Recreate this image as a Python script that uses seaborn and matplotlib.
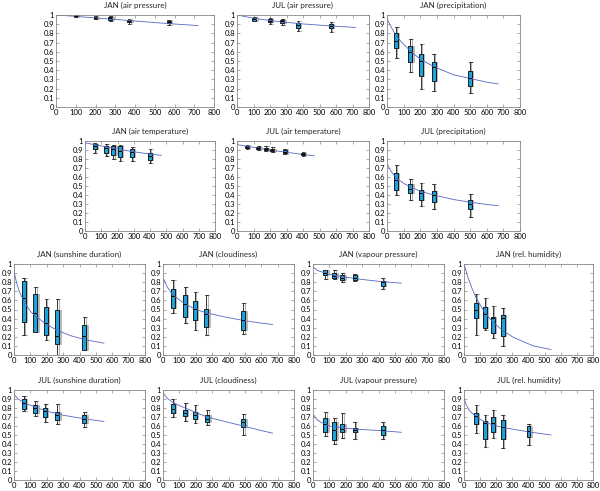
import matplotlib
matplotlib.use("Agg")
import matplotlib.pyplot as plt
import seaborn as sns

# box rows: position, low whisker, q1, median, q3, high whisker
# fit rows: x, y
jan_air_pressure_boxes = [
    (100, 0.980, 0.985, 0.990, 0.995, 1.000),
    (200, 0.955, 0.960, 0.970, 0.980, 0.985),
    (275, 0.940, 0.950, 0.965, 0.975, 0.985),
    (370, 0.900, 0.920, 0.935, 0.945, 0.960),
    (570, 0.890, 0.910, 0.920, 0.935, 0.950),
]
jan_air_pressure_fit = [(0, 1.0), (100, 0.985), (200, 0.968), (300, 0.952), (400, 0.935),
                        (500, 0.918), (600, 0.902), (720, 0.885)]

jul_air_pressure_boxes = [
    (105, 0.930, 0.940, 0.955, 0.970, 0.980),
    (200, 0.900, 0.920, 0.940, 0.960, 0.970),
    (275, 0.890, 0.910, 0.930, 0.950, 0.960),
    (370, 0.830, 0.860, 0.890, 0.910, 0.940),
    (570, 0.810, 0.860, 0.880, 0.900, 0.920),
]
jul_air_pressure_fit = [(0, 1.0), (100, 0.965), (200, 0.940), (300, 0.920), (400, 0.903),
                        (500, 0.890), (600, 0.877), (720, 0.865)]

jan_precip_boxes = [
    (55, 0.53, 0.64, 0.72, 0.80, 0.87),
    (140, 0.38, 0.49, 0.60, 0.66, 0.74),
    (205, 0.20, 0.34, 0.50, 0.58, 0.69),
    (280, 0.17, 0.28, 0.44, 0.49, 0.58),
    (500, 0.15, 0.23, 0.31, 0.39, 0.49),
]
jan_precip_fit = [(0, 0.96), (25, 0.87), (50, 0.79), (80, 0.72), (140, 0.61), (200, 0.52),
                  (280, 0.44), (400, 0.35), (500, 0.31), (600, 0.27), (670, 0.25)]

jan_air_temp_boxes = [
    (60, 0.87, 0.91, 0.95, 0.97, 0.98),
    (130, 0.83, 0.87, 0.92, 0.95, 0.97),
    (175, 0.80, 0.84, 0.91, 0.95, 0.96),
    (215, 0.78, 0.82, 0.89, 0.94, 0.96),
    (290, 0.78, 0.82, 0.88, 0.91, 0.93),
    (400, 0.76, 0.79, 0.83, 0.87, 0.91),
]
jan_air_temp_fit = [(0, 0.98), (100, 0.945), (200, 0.91), (300, 0.88), (400, 0.855), (470, 0.84)]

jul_air_temp_boxes = [
    (60, 0.91, 0.92, 0.935, 0.95, 0.96),
    (130, 0.90, 0.91, 0.92, 0.935, 0.95),
    (175, 0.89, 0.90, 0.91, 0.925, 0.94),
    (215, 0.88, 0.89, 0.90, 0.915, 0.93),
    (290, 0.86, 0.87, 0.88, 0.895, 0.91),
    (400, 0.83, 0.84, 0.855, 0.87, 0.88),
]
jul_air_temp_fit = [(0, 0.96), (100, 0.93), (200, 0.90), (300, 0.875), (400, 0.85), (470, 0.835)]

jul_precip_boxes = [
    (55, 0.40, 0.46, 0.57, 0.64, 0.73),
    (140, 0.35, 0.42, 0.47, 0.52, 0.58),
    (205, 0.28, 0.35, 0.42, 0.46, 0.53),
    (280, 0.25, 0.32, 0.40, 0.44, 0.52),
    (500, 0.16, 0.24, 0.30, 0.35, 0.41),
]
jul_precip_fit = [(0, 0.75), (25, 0.66), (55, 0.59), (100, 0.53), (140, 0.49), (205, 0.44),
                  (280, 0.40), (400, 0.35), (500, 0.32), (600, 0.295), (670, 0.28)]

jan_sun_boxes = [
    (60, 0.22, 0.36, 0.63, 0.81, 0.85),
    (130, 0.25, 0.25, 0.46, 0.67, 0.75),
    (195, 0.17, 0.22, 0.35, 0.53, 0.62),
    (265, 0.00, 0.12, 0.21, 0.50, 0.61),
    (430, 0.06, 0.06, 0.21, 0.33, 0.42),
]
jan_sun_fit = [(0, 0.92), (15, 0.80), (30, 0.71), (60, 0.59), (100, 0.48), (130, 0.43),
               (195, 0.34), (265, 0.27), (350, 0.21), (430, 0.17), (550, 0.13)]

jan_cloud_boxes = [
    (60, 0.46, 0.52, 0.65, 0.73, 0.82),
    (135, 0.35, 0.42, 0.56, 0.66, 0.75),
    (195, 0.28, 0.39, 0.51, 0.59, 0.69),
    (265, 0.22, 0.31, 0.45, 0.51, 0.66),
    (490, 0.23, 0.28, 0.38, 0.48, 0.57),
]
jan_cloud_fit = [(0, 0.85), (25, 0.75), (60, 0.66), (135, 0.56), (200, 0.50), (270, 0.46),
                 (400, 0.41), (490, 0.38), (600, 0.35), (670, 0.335)]

jan_vapour_boxes = [
    (75, 0.84, 0.88, 0.90, 0.93, 0.93),
    (130, 0.83, 0.85, 0.87, 0.90, 0.93),
    (180, 0.80, 0.82, 0.85, 0.88, 0.90),
    (255, 0.81, 0.82, 0.85, 0.88, 0.89),
    (425, 0.73, 0.76, 0.80, 0.81, 0.85),
]
jan_vapour_fit = [(0, 0.97), (25, 0.93), (75, 0.90), (130, 0.875), (200, 0.855), (300, 0.83),
                  (425, 0.805), (540, 0.79)]

jan_humid_boxes = [
    (75, 0.22, 0.41, 0.50, 0.57, 0.67),
    (130, 0.27, 0.30, 0.45, 0.53, 0.63),
    (180, 0.19, 0.24, 0.41, 0.42, 0.54),
    (240, 0.10, 0.21, 0.41, 0.44, 0.52),
]
jan_humid_fit = [(0, 1.0), (25, 0.85), (50, 0.73), (75, 0.63), (130, 0.46), (180, 0.36),
                 (240, 0.27), (300, 0.20), (350, 0.16), (430, 0.10), (540, 0.06)]

jul_sun_boxes = [
    (60, 0.77, 0.79, 0.86, 0.90, 0.93),
    (130, 0.71, 0.75, 0.80, 0.83, 0.88),
    (190, 0.65, 0.70, 0.77, 0.80, 0.85),
    (265, 0.62, 0.67, 0.72, 0.76, 0.85),
    (430, 0.59, 0.63, 0.68, 0.72, 0.76),
]
jul_sun_fit = [(0, 0.95), (25, 0.90), (60, 0.86), (130, 0.81), (200, 0.765), (300, 0.72),
               (430, 0.68), (550, 0.65)]

jul_cloud_boxes = [
    (60, 0.70, 0.74, 0.79, 0.84, 0.90),
    (135, 0.66, 0.71, 0.75, 0.78, 0.86),
    (195, 0.63, 0.68, 0.72, 0.76, 0.83),
    (270, 0.61, 0.65, 0.68, 0.72, 0.78),
    (490, 0.50, 0.59, 0.64, 0.68, 0.73),
]
jul_cloud_fit = [(0, 0.97), (25, 0.91), (60, 0.86), (135, 0.80), (200, 0.75), (270, 0.70),
                 (400, 0.64), (490, 0.60), (600, 0.55), (670, 0.52)]

jul_vapour_boxes = [
    (75, 0.49, 0.53, 0.62, 0.69, 0.76),
    (130, 0.40, 0.45, 0.56, 0.65, 0.69),
    (180, 0.47, 0.53, 0.57, 0.62, 0.74),
    (255, 0.46, 0.53, 0.56, 0.58, 0.64),
    (425, 0.46, 0.50, 0.56, 0.60, 0.64),
]
jul_vapour_fit = [(0, 0.73), (25, 0.67), (50, 0.64), (100, 0.60), (180, 0.58), (260, 0.565),
                  (400, 0.55), (540, 0.53)]

jul_humid_boxes = [
    (75, 0.52, 0.62, 0.71, 0.75, 0.83),
    (130, 0.37, 0.46, 0.63, 0.66, 0.72),
    (180, 0.47, 0.53, 0.63, 0.70, 0.78),
    (240, 0.36, 0.46, 0.59, 0.67, 0.72),
    (400, 0.39, 0.48, 0.54, 0.60, 0.62),
]
jul_humid_fit = [(0, 0.91), (15, 0.83), (35, 0.77), (75, 0.70), (130, 0.645), (180, 0.61),
                 (240, 0.585), (300, 0.565), (400, 0.535), (540, 0.50)]

# title, boxes, fit, axes box in pixels (left, right, top, bottom)
panels = [
    ("JAN (air pressure)", jan_air_pressure_boxes, jan_air_pressure_fit, (56, 214, 15, 107)),
    ("JUL (air pressure)", jul_air_pressure_boxes, jul_air_pressure_fit, (237, 369, 15, 107)),
    ("JAN (precipitation)", jan_precip_boxes, jan_precip_fit, (387, 520, 15, 107)),
    ("JAN (air temperature)", jan_air_temp_boxes, jan_air_temp_fit, (85, 215, 141, 231)),
    ("JUL (air temperature)", jul_air_temp_boxes, jul_air_temp_fit, (237, 369, 141, 231)),
    ("JUL (precipitation)", jul_precip_boxes, jul_precip_fit, (387, 520, 141, 231)),
    ("JAN (sunshine duration)", jan_sun_boxes, jan_sun_fit, (14, 145, 264, 355)),
    ("JAN (cloudiness)", jan_cloud_boxes, jan_cloud_fit, (163, 294, 264, 355)),
    ("JAN (vapour pressure)", jan_vapour_boxes, jan_vapour_fit, (313, 444, 264, 355)),
    ("JAN (rel. humidity)", jan_humid_boxes, jan_humid_fit, (464, 593, 264, 355)),
    ("JUL (sunshine duration)", jul_sun_boxes, jul_sun_fit, (14, 145, 390, 480)),
    ("JUL (cloudiness)", jul_cloud_boxes, jul_cloud_fit, (163, 294, 390, 480)),
    ("JUL (vapour pressure)", jul_vapour_boxes, jul_vapour_fit, (313, 444, 390, 480)),
    ("JUL (rel. humidity)", jul_humid_boxes, jul_humid_fit, (464, 593, 390, 480)),
]

sns.set_style('ticks')
plt.rcParams['font.family'] = ['Lato', 'DejaVu Sans']

W, H = 600, 491
fig = plt.figure(figsize=(W / 100, H / 100), dpi=100)

BLUE = '#1aa3dd'
GREY = '#b5b5b5'
LINE = '#5666c4'

for title, boxes, fit, (l, r, t, b) in panels:
    ax = fig.add_axes([l / W, 1 - b / H, (r - l) / W, (b - t) / H])
    pos = [row[0] for row in boxes]
    stats = [dict(whislo=row[1], q1=row[2], med=row[3], q3=row[4], whishi=row[5], fliers=[])
             for row in boxes]
    bw = 24 * 133 / (r - l)

    # grey shadow box slightly to the right
    ax.bxp(stats, positions=[p + 8 for p in pos], widths=bw, patch_artist=True,
           showfliers=False, manage_ticks=False, capwidths=bw * 0.7,
           boxprops=dict(facecolor=GREY, edgecolor=GREY, lw=0.6),
           whiskerprops=dict(color=GREY, lw=0.8), capprops=dict(color=GREY, lw=0.8),
           medianprops=dict(color=GREY, lw=0.6))
    ax.bxp(stats, positions=pos, widths=bw, patch_artist=True,
           showfliers=False, manage_ticks=False, capwidths=bw * 0.7,
           boxprops=dict(facecolor=BLUE, edgecolor='black', lw=0.6),
           whiskerprops=dict(color='#333333', lw=0.7), capprops=dict(color='#333333', lw=0.7),
           medianprops=dict(color='black', lw=0.7))

    sns.lineplot(x=[p[0] for p in fit], y=[p[1] for p in fit], ax=ax, color=LINE, lw=0.6)

    ax.set_xlim(0, 800)
    ax.set_ylim(0, 1)
    ax.set_xticks(range(0, 801, 100))
    ax.set_yticks([i / 10 for i in range(11)])
    ax.set_yticklabels(['0'] + ['0.%d' % i for i in range(1, 10)] + ['1'])
    ax.tick_params(direction='in', length=2, width=0.5, top=True, right=True,
                   labelsize=5.5, pad=1.2, colors='#888888', labelcolor='black')
    for s in ax.spines.values():
        s.set_color('#888888')
        s.set_linewidth(0.6)
    ax.set_title(title, fontsize=5.8, pad=5)

fig.savefig('out.png', dpi=100)
